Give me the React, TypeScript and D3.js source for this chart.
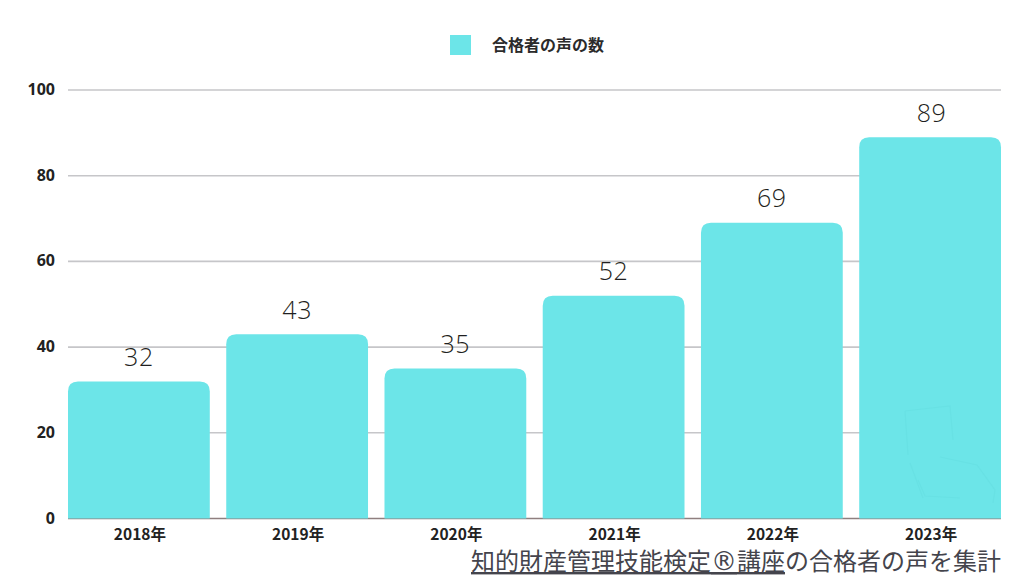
import React from 'react';
import * as d3 from 'd3';

const years = ['2018年', '2019年', '2020年', '2021年', '2022年', '2023年'];
const counts = [32, 43, 35, 52, 69, 89];
const yTicks = [0, 20, 40, 60, 80, 100];
const legendLabel = '合格者の声の数';
const noteLinkedA = '知的財産管理技能検定';
const noteMark = '®';
const noteLinkedB = '講座';
const noteRest = 'の合格者の声を集計';

const WIDTH = 1024;
const HEIGHT = 576;
const BAR_COLOR = '#6ce5e8';
const JP_FONT = '"Noto Sans CJK JP", "Noto Sans", sans-serif';
const NUM_FONT = '"Open Sans", "Noto Sans", sans-serif';

// rect with only the top corners rounded
const topRounded = (x: number, y: number, w: number, h: number, r: number) => {
  const p = d3.path();
  p.moveTo(x, y + h);
  p.lineTo(x, y + r);
  p.quadraticCurveTo(x, y, x + r, y);
  p.lineTo(x + w - r, y);
  p.quadraticCurveTo(x + w, y, x + w, y + r);
  p.lineTo(x + w, y + h);
  p.closePath();
  return p.toString();
};

const App: React.FC = () => {
  const x = d3.scaleBand<string>().domain(years).range([68, 1001]).paddingInner(0.104).paddingOuter(0);
  const y = d3.scaleLinear().domain([0, 100]).range([518.5, 90]);

  return (
    <svg
      width={WIDTH}
      height={HEIGHT}
      viewBox={`0 0 ${WIDTH} ${HEIGHT}`}
      style={{ position: 'fixed', left: 0, top: 0, background: '#fff' }}
    >
      {/* Legend */}
      <rect x={450} y={35} width={21} height={20} fill={BAR_COLOR} />
      <text x={492} y={51} fontFamily={JP_FONT} fontSize={16} fontWeight={700} fill="#2b2b2b">
        {legendLabel}
      </text>

      {/* Grid and y labels */}
      {yTicks.map(t => (
        <g key={t}>
          {t > 0 && <line x1={68} x2={1001} y1={y(t)} y2={y(t)} stroke="#c6c6c9" strokeWidth={1.6} />}
          <text
            x={55}
            y={y(t) + 5}
            textAnchor="end"
            fontFamily={NUM_FONT}
            fontSize={16}
            fontWeight={700}
            fill="#222"
          >
            {t}
          </text>
        </g>
      ))}
      <line x1={68} x2={1001} y1={y(0)} y2={y(0)} stroke="#8f7f7f" strokeWidth={1.6} />

      {/* Bars */}
      {years.map((yr, i) => (
        <path
          key={yr}
          d={topRounded(x(yr) as number, y(counts[i]), x.bandwidth(), y(0) - y(counts[i]), 10)}
          fill={BAR_COLOR}
        />
      ))}

      {/* Faint phone-in-hand watermark on the last bar */}
      <path
        d="M905 411L950 406L953 440M905 411L908 455M910 463L923 498M940 457L977 465L995 490L993 503M918 480L925 496L960 498"
        fill="none"
        stroke="#68e1e4"
        strokeWidth={1.2}
      />

      {/* Value labels */}
      {years.map((yr, i) => (
        <text
          key={yr}
          x={(x(yr) as number) + x.bandwidth() / 2 + (i === 5 ? 1.5 : 0)}
          y={y(counts[i]) - 15.5}
          textAnchor="middle"
          fontFamily={NUM_FONT}
          fontSize={25}
          fontWeight={300}
          letterSpacing={0.5}
          fill="#1f1f21"
        >
          {counts[i]}
        </text>
      ))}

      {/* Category labels */}
      {years.map(yr => (
        <text
          key={yr}
          x={(x(yr) as number) + x.bandwidth() / 2 + 1}
          y={539.5}
          textAnchor="middle"
          fontFamily={JP_FONT}
          fontSize={15.5}
          fontWeight={700}
          fill="#222"
        >
          {yr}
        </text>
      ))}

      {/* Source note */}
      <text x={1001} y={570} textAnchor="end" fontFamily={JP_FONT} fontSize={24} fill="#44444c">
        <tspan textDecoration="underline">{noteLinkedA}</tspan>
        <tspan textDecoration="underline" fontFamily="DejaVu Sans" fontSize={26}>{noteMark}</tspan>
        <tspan textDecoration="underline">{noteLinkedB}</tspan>
        <tspan>{noteRest}</tspan>
      </text>
    </svg>
  );
};

export default App;
